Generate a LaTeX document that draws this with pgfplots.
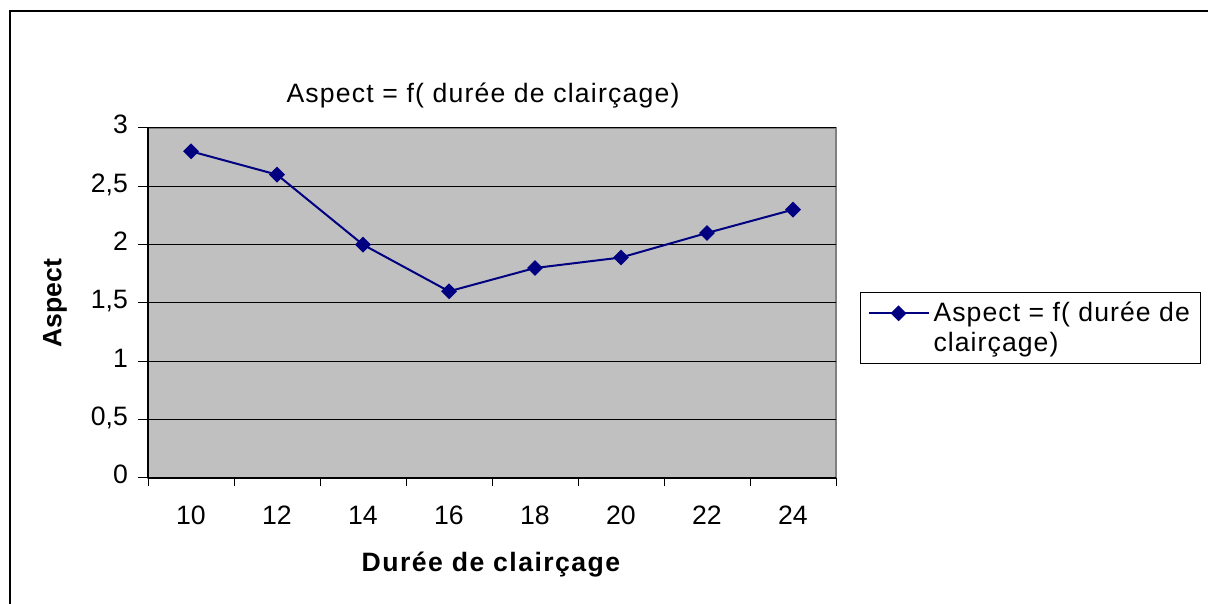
\documentclass[border=0pt]{standalone}
\usepackage{fontspec}
\setmainfont{Liberation Sans}
\newfontfamily\titlefont[LetterSpace=4.5]{Liberation Sans}
\newfontfamily\legfont[LetterSpace=4]{Liberation Sans}
\newfontfamily\xlabfont[LetterSpace=5.5]{Liberation Sans}
\usepackage{pgfplots}
\pgfplotsset{compat=1.18}
\definecolor{plotgray}{HTML}{C0C0C0}
\definecolor{bordergray}{HTML}{808080}
\definecolor{navyline}{HTML}{000080}
\begin{document}
\begin{tikzpicture}
\useasboundingbox (0pt,0pt) rectangle (604pt,302pt);
\draw[line width=1pt] (5pt,-10pt) -- (5pt,296.5pt) -- (620pt,296.5pt);
\begin{axis}[
  at={(74pt,63pt)}, anchor=south west,
  scale only axis, width=344pt, height=175pt,
  xmin=-0.5, xmax=7.5, ymin=0, ymax=3,
  axis x line*=bottom, axis y line*=left,
  axis line style={-, black, line width=0.6pt},
  axis background/.style={fill=plotgray, draw=bordergray, line width=1pt},
  xtick={0,1,2,3,4,5,6,7},
  xticklabels={10,12,14,16,18,20,22,24},
  major x tick style={draw=none},
  minor xtick={-0.5,0.5,1.5,2.5,3.5,4.5,5.5,6.5,7.5},
  minor tick length=4pt,
  ytick={0,0.5,1,1.5,2,2.5,3},
  major tick length=5pt,
  tick align=outside,
  tick style={black, line width=0.5pt},
  ymajorgrids, grid style={black, line width=0.5pt},
  /pgf/number format/use comma,
  /pgf/number format/assume math mode=true,
  typeset ticklabels with strut,
  tick label style={font=\fontsize{13.3}{15}\selectfont},
  xticklabel style={yshift=-4pt},
  yticklabel style={xshift=-1.5pt},
  legend style={at={(1.035,0.53)}, anchor=north west, draw=black, line width=0.5pt,
    font=\legfont\fontsize{13.3}{15}\selectfont, cells={align=left}, inner xsep=3.5pt, inner ysep=2.5pt},
  legend image code/.code={\draw[mark repeat=2,mark phase=2,yshift=7.5pt,#1] plot coordinates {(0pt,0pt) (15pt,0pt) (30pt,0pt)};},
]
\addplot[navyline, line width=1pt, mark=square*, mark size=2.3pt, mark options={rotate=45, solid, fill=navyline}]
  coordinates {(0,2.8) (1,2.6) (2,2.0) (3,1.6) (4,1.8) (5,1.89) (6,2.1) (7,2.3)};
\addlegendentry{Aspect = f( durée de\\clairçage)}
\end{axis}
\node[font=\titlefont\fontsize{13.3}{15}\selectfont] at (241.5pt,254pt) {Aspect = f( durée de clairçage)};
\node[font=\bfseries\fontsize{13.3}{15}\selectfont, rotate=90] at (27.5pt,150.5pt) {Aspect};
\node[font=\xlabfont\bfseries\fontsize{13.3}{15}\selectfont] at (245.5pt,19.5pt) {Durée de clairçage};
\end{tikzpicture}
\end{document}
